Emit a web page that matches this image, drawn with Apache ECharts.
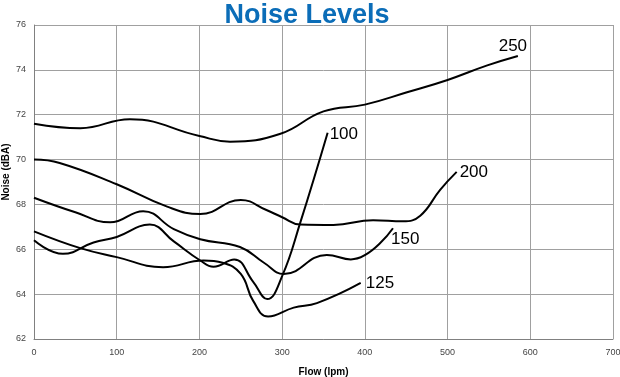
<!DOCTYPE html>
<html>
<head>
<meta charset="utf-8">
<script src="https://cdn.jsdelivr.net/npm/echarts@6/dist/echarts.min.js"></script>
<style>
  html, body { margin: 0; padding: 0; background: #fff; }
  #chart { width: 620px; height: 377px; }
</style>
</head>
<body>
<div id="chart"></div>
<script>
// readings taken off the reference curves (flow in lpm, noise in dBA)
const flow250 = [0, 56, 116, 200, 237, 298, 350, 400, 451, 500, 548, 585];
const noise250 = [71.6, 71.4, 71.8, 71.05, 70.8, 71.15, 72.15, 72.45, 73.0, 73.55, 74.2, 74.62];

const flow200 = [0, 31, 100, 161, 201, 250, 281, 300, 322, 362, 410, 446, 467, 491, 511];
const noise200 = [70.0, 69.85, 68.9, 67.9, 67.57, 68.2, 67.75, 67.43, 67.1, 67.08, 67.3, 67.25, 67.5, 68.65, 69.45];

const flow150 = [0, 50, 92, 132, 169, 201, 249, 278, 302, 354, 383, 434];
const noise150 = [68.3, 67.65, 67.2, 67.7, 66.9, 66.45, 66.1, 65.4, 64.9, 65.75, 65.55, 66.94];

const flow125 = [0, 56, 100, 156, 205, 228, 250, 265, 283, 314, 342, 395];
const noise125 = [66.8, 66.05, 65.65, 65.2, 65.5, 65.4, 64.9, 63.7, 63.0, 63.4, 63.6, 64.5];

const flow100 = [0, 35, 72, 100, 140, 169, 201, 217, 242, 265, 282, 300, 322, 355];
const noise100 = [66.4, 65.8, 66.3, 66.55, 67.1, 66.35, 65.5, 65.22, 65.55, 64.55, 63.78, 64.8, 67.2, 71.2];

const xTicks = [0, 100, 200, 300, 400, 500, 600, 700];
const yTicks = [62, 64, 66, 68, 70, 72, 74, 76];

const gridColor = '#a0a0a0';
const fontFamily = '"Liberation Sans", Arial, Helvetica, sans-serif';

// label placement for the curve-name text at the end of each line
function curve(name, xs, ys, labelOpts) {
  const data = xs.map((x, i) => [x, ys[i]]);
  const last = data.length - 1;
  data[last] = {
    value: data[last],
    label: Object.assign({
      show: true,
      formatter: name,
      color: '#000',
      fontSize: 17,
      fontFamily: fontFamily,
    }, labelOpts),
  };
  return {
    name: name,
    type: 'line',
    data: data,
    smooth: 0.45,
    showSymbol: true,
    symbol: 'circle',
    symbolSize: 0,
    lineStyle: { color: '#000', width: 2 },
    itemStyle: { color: '#000' },
    emphasis: { disabled: true },
    z: 3,
  };
}

const chart = echarts.init(document.getElementById('chart'), null, { renderer: 'canvas' });

chart.setOption({
  animation: false,
  title: {
    text: 'Noise Levels',
    left: 302,
    top: -3,
    textAlign: 'center',
    textStyle: {
      color: '#0b6db8',
      fontSize: 27,
      fontWeight: 'bold',
      fontFamily: fontFamily,
    },
  },
  grid: { left: 34, right: 7, top: 25, bottom: 38, outerBoundsMode: 'none', containLabel: false },
  xAxis: {
    type: 'value',
    min: xTicks[0],
    max: xTicks[xTicks.length - 1],
    interval: 100,
    name: 'Flow (lpm)',
    nameLocation: 'middle',
    nameGap: 28,
    nameMoveOverlap: false,
    nameTextStyle: { fontSize: 10, fontWeight: 'bold', color: '#000', fontFamily: fontFamily },
    axisLine: { show: true, lineStyle: { color: '#808080', width: 1 } },
    axisTick: { show: false },
    axisLabel: { fontSize: 9, color: '#444', margin: 9, fontFamily: fontFamily },
    splitLine: { show: true, lineStyle: { color: gridColor, width: 1 } },
  },
  yAxis: {
    type: 'value',
    min: yTicks[0],
    max: yTicks[yTicks.length - 1],
    interval: 2,
    name: 'Noise (dBA)',
    nameLocation: 'middle',
    nameGap: 23,
    nameMoveOverlap: false,
    nameTextStyle: { fontSize: 10, fontWeight: 'bold', color: '#000', fontFamily: fontFamily, padding: [0, 0, 0, 20] },
    axisLine: { show: true, lineStyle: { color: '#808080', width: 1 } },
    axisTick: { show: false },
    axisLabel: { fontSize: 9, color: '#444', margin: 8, fontFamily: fontFamily },
    splitLine: { show: true, lineStyle: { color: gridColor, width: 1 } },
  },
  series: [
    curve('250', flow250, noise250, { position: 'top', distance: 3, offset: [-5, 2] }),
    curve('200', flow200, noise200, { position: 'right', distance: 3 }),
    curve('150', flow150, noise150, { position: 'right', distance: 0, offset: [-2, 11] }),
    curve('125', flow125, noise125, { position: 'right', distance: 5 }),
    curve('100', flow100, noise100, { position: 'right', distance: 2, offset: [0, 2] }),
  ],
});
</script>
</body>
</html>
